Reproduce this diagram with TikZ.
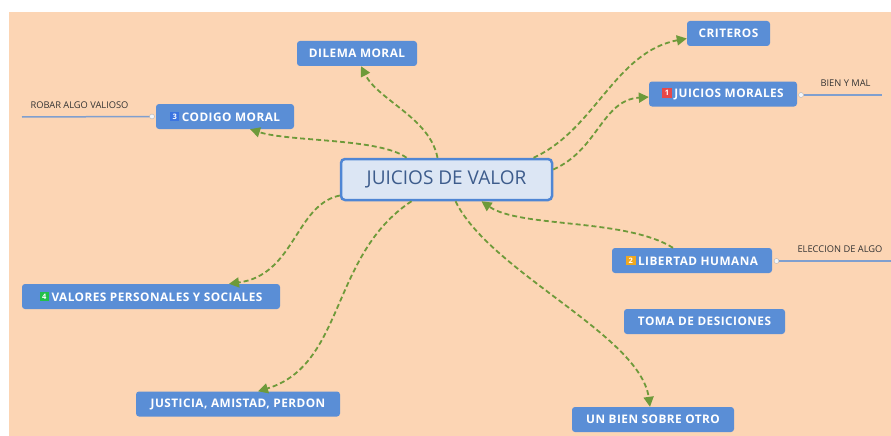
\documentclass[tikz,border=0pt]{standalone}
\usepackage{fontspec}
\setmainfont{Open Sans}
\usetikzlibrary{arrows.meta,calc}
\definecolor{fondo}{HTML}{FCD5B4}
\definecolor{caja}{HTML}{5A8ED6}
\definecolor{claro}{HTML}{DCE6F4}
\definecolor{borde}{HTML}{4F86D4}
\definecolor{letra}{HTML}{3D5C8C}
\definecolor{flecha}{HTML}{6E9A3A}
\definecolor{rama}{HTML}{7F9FCF}
\definecolor{rojo}{HTML}{E84848}
\definecolor{naranja}{HTML}{F0A820}
\definecolor{verde}{HTML}{22C04A}
\definecolor{azulb}{HTML}{3B74E0}
\newcommand{\marca}[2]{{\setlength\fboxsep{0pt}\colorbox{#1}{\makebox[9.5pt]{\rule{0pt}{9.5pt}\raisebox{1.8pt}{\fontsize{7.5}{7.5}\selectfont #2}}}}\hspace{2.5pt}}
\tikzset{
  tema/.style={rectangle, rounded corners=3pt, fill=caja, text=white,
    font=\fontsize{11.8}{11.8}\selectfont\bfseries\addfontfeature{LetterSpace=4},
    minimum height=25, inner xsep=4},
  nota/.style={font=\fontsize{9.3}{9.3}\selectfont, text=black!80},
  enlace/.style={draw=flecha, line width=1.8pt, dash pattern=on 5pt off 3pt,
    -{Triangle[length=10pt,width=10pt,fill=flecha]}},
  punto/.style={circle, draw=black!30, fill=white!90!rama, inner sep=0pt, minimum size=5pt}
}
\begin{document}
\begin{tikzpicture}[x=1pt,y=-1pt]
  \useasboundingbox (0,0) rectangle (891,436);
  \fill[fondo] (9,12) rectangle (891,436);
  % tema central
  \node[rectangle, rounded corners=4pt, fill=claro, draw=borde, line width=2.5pt,
    minimum width=211, minimum height=41, text=letra,
    font=\fontsize{19}{19}\selectfont] (centro) at (446.5,179.5) {JUICIOS DE VALOR};
  % subtemas
  \node[tema, minimum width=120] (dilema) at (357,53.5) {DILEMA MORAL};
  \node[tema, minimum width=83] (criterios) at (728.5,33.5) {CRITEROS};
  \node[tema, minimum width=148] (morales) at (723,94) {\marca{rojo}{1}JUICIOS MORALES};
  \node[tema, minimum width=138] (codigo) at (225,116.5) {\marca{azulb}{3}CODIGO MORAL};
  \node[tema, minimum width=160] (libertad) at (692,260.5) {\marca{naranja}{2}LIBERTAD HUMANA};
  \node[tema, minimum width=161] (toma) at (704.5,321.5) {TOMA DE DESICIONES};
  \node[tema, minimum width=258] (valores) at (151,296.5) {\marca{verde}{4}VALORES PERSONALES Y SOCIALES};
  \node[tema, minimum width=204] (justicia) at (238,404) {JUSTICIA, AMISTAD, PERDON};
  \node[tema, minimum width=162] (bien) at (653,419.5) {UN BIEN SOBRE OTRO};
  % ramas con notas
  \node[punto] (p3) at (152,116.5) {};
  \coordinate (f3) at (22,117);
  \draw[rama, line width=1.5pt] (p3.west) -- (f3);
  \node[nota, anchor=south west] (n3) at (27,112) {ROBAR ALGO VALIOSO};
  \node[punto] (p1) at (801,95) {};
  \coordinate (f1) at (882,95);
  \draw[rama, line width=1.5pt] (p1.east) -- (f1);
  \node[nota, anchor=south west] (n1) at (817,90) {BIEN Y MAL};
  \node[punto] (p2) at (776.5,261) {};
  \coordinate (f2) at (891,261);
  \draw[rama, line width=1.5pt] (p2.east) -- (f2);
  \node[nota, anchor=south west] (n2) at (794,256) {ELECCION DE ALGO};
  % conectores
  \draw[enlace] ([xshift=-9pt]centro.north) .. controls (430,118) and (378,100) .. ([xshift=4pt]dilema.south);
  \draw[enlace] ([xshift=-40pt]centro.north) .. controls (380,138) and (290,142) .. ([xshift=25pt]codigo.south);
  \draw[enlace] ([xshift=87pt]centro.north) .. controls (595,130) and (615,52) .. ([yshift=-5pt]criterios.west);
  \draw[enlace] ([yshift=10pt]centro.east) .. controls (598,150) and (602,100) .. ([yshift=-3pt]morales.west);
  \draw[enlace] ([xshift=-19pt]libertad.north) .. controls (625,218) and (520,228) .. ([xshift=35pt]centro.south);
  \draw[enlace] ([xshift=9pt]centro.south) .. controls (490,272) and (640,335) .. ([xshift=-3pt]bien.north);
  \draw[enlace] ([xshift=-35pt]centro.south) .. controls (330,255) and (345,365) .. ([xshift=20pt]justicia.north);
  \draw[enlace] ([yshift=-16pt]centro.west) .. controls (295,205) and (295,275) .. ([xshift=78pt]valores.north);
\end{tikzpicture}
\end{document}
